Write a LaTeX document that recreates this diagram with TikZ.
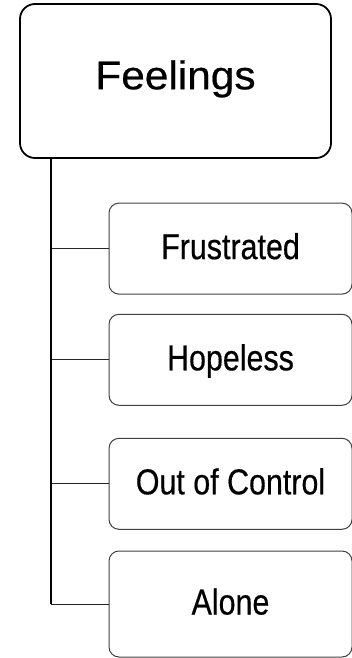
\documentclass[tikz,border=0pt]{standalone}
\usepackage{fontspec}
\setmainfont{Liberation Sans}
\newfontfamily\labelfont{Liberation Sans}[FakeBold=0.5]
\begin{document}
\begin{tikzpicture}[x=1pt,y=-1pt,
  rootbox/.style={draw=black, line width=1.8pt, rounded corners=15pt,
    minimum width=311pt, minimum height=154pt, inner sep=0pt,
    text height=25pt, text depth=8.5pt,
    font=\labelfont\fontsize{40}{48}\selectfont},
  itembox/.style={draw=black!75, line width=1pt, rounded corners=10pt,
    minimum width=243pt, inner sep=0pt,
    text height=21pt, text depth=0pt,
    font=\labelfont\fontsize{36}{43}\selectfont},
  trunkline/.style={draw=black, line width=1.3pt},
  branchline/.style={draw=black!85, line width=1pt}]
\useasboundingbox (0,0) rectangle (351,658);

% top-level box
\node[rootbox] (root) at (175.5,81) {\scalebox{1.06}[1]{Feelings}};

% child boxes
\node[itembox, minimum height=91pt]  (frus)  at (230.5,248.6) {\scalebox{0.845}[1]{Frustrated}};
\node[itembox, minimum height=91pt]  (hope)  at (230.5,359.8) {\scalebox{0.845}[1]{Hopeless}};
\node[itembox, minimum height=91pt]  (ctrl)  at (230.5,483.8) {\scalebox{0.845}[1]{Out of Control}};
\node[itembox, minimum height=106pt] (alone) at (230.5,604)   {\scalebox{0.845}[1]{Alone}};

% tree connectors
\coordinate (trunktop) at ([xshift=32pt]root.south west);
\draw[branchline] (trunktop |- frus.west) -- (frus.west);
\draw[branchline] (trunktop |- hope.west) -- (hope.west);
\draw[branchline] (trunktop |- ctrl.west) -- (ctrl.west);
\draw[branchline] (trunktop |- alone.west) -- (alone.west);
\draw[trunkline] (trunktop) -- (trunktop |- alone.west);
\end{tikzpicture}
\end{document}
